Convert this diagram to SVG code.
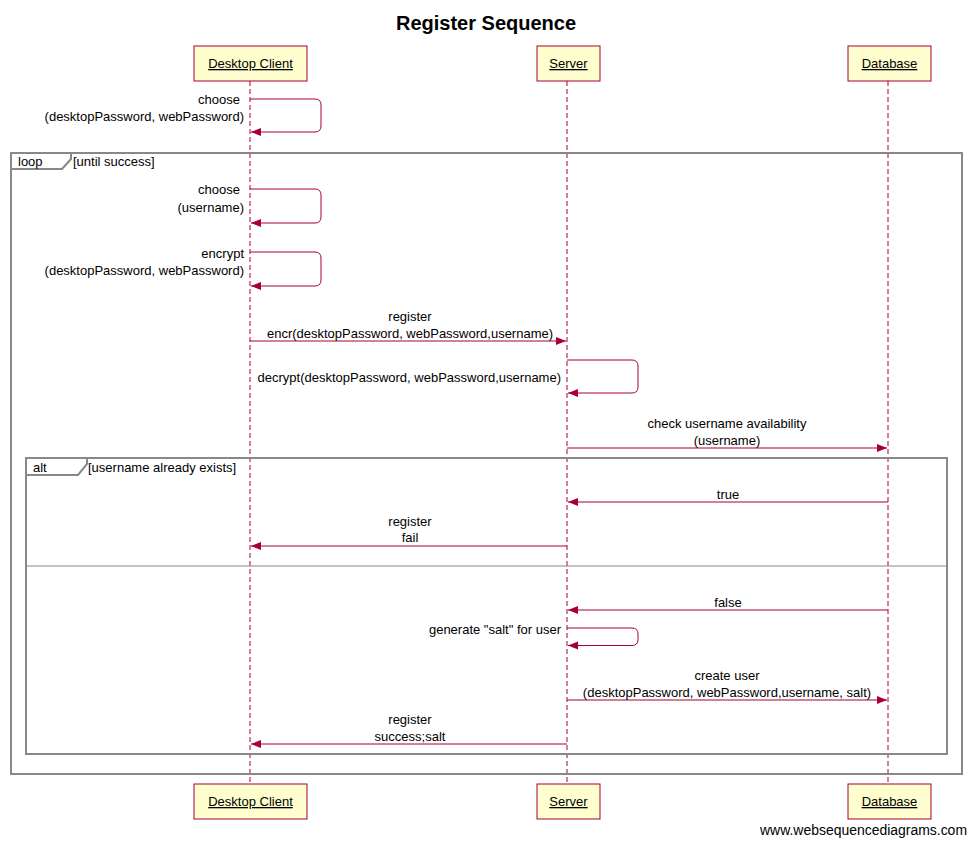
<svg xmlns="http://www.w3.org/2000/svg" width="971" height="842" viewBox="0 0 971 842">
<style>
text{font-family:"Liberation Sans",Arial,sans-serif;font-size:13px;fill:#000}
.title{font-size:20px;font-weight:bold}
.pbox{fill:#fefece;stroke:#a80036;stroke-width:1}
.plabel{text-decoration:underline;text-anchor:middle}
.life{stroke:#a80036;stroke-width:1;stroke-dasharray:5,3;fill:none}
.msg{stroke:#a80036;stroke-width:1;fill:none;marker-end:url(#ah)}
.frame{fill:none;stroke:#888;stroke-width:2}
.tab{fill:#fff;stroke:#888;stroke-width:2}
.sep{stroke:#888;stroke-width:1}
.c{text-anchor:middle}
.r{text-anchor:end}
</style>
<defs>
<marker id="ah" markerUnits="userSpaceOnUse" markerWidth="11" markerHeight="9" refX="10" refY="4" orient="auto">
<path d="M0,0 L10,4 L0,8 z" fill="#a80036"/>
</marker>
</defs>
<rect width="971" height="842" fill="#fff"/>
<text class="title c" x="486" y="30">Register Sequence</text>

<g id="lifelines">
<line class="life" x1="250" y1="81" x2="250" y2="784"/>
<line class="life" x1="567" y1="81" x2="567" y2="784"/>
<line class="life" x1="888" y1="81" x2="888" y2="784"/>
</g>

<g id="frames">
<rect class="frame" x="11" y="153" width="951" height="621"/>
<path class="tab" d="M11,153 H71 V159 L62,169 H11 Z"/>
<text x="18" y="166">loop</text>
<text x="73" y="166">[until success]</text>
<rect class="frame" x="26" y="458" width="921" height="296"/>
<path class="tab" d="M26,458 H87 V464 L78,475 H26 Z"/>
<text x="33" y="472">alt</text>
<text x="88" y="472">[username already exists]</text>
<line class="sep" x1="26" y1="566" x2="947" y2="566"/>
</g>

<g id="desktop-client">
<rect class="pbox" x="194" y="46" width="113" height="35"/>
<text class="plabel" x="250.5" y="68">Desktop Client</text>
<rect class="pbox" x="194" y="784" width="113" height="35"/>
<text class="plabel" x="250.5" y="806">Desktop Client</text>
</g>
<g id="server">
<rect class="pbox" x="537" y="46" width="63" height="35"/>
<text class="plabel" x="568.5" y="68">Server</text>
<rect class="pbox" x="537" y="784" width="63" height="35"/>
<text class="plabel" x="568.5" y="806">Server</text>
</g>
<g id="database">
<rect class="pbox" x="848" y="46" width="83" height="35"/>
<text class="plabel" x="889.5" y="68">Database</text>
<rect class="pbox" x="848" y="784" width="83" height="35"/>
<text class="plabel" x="889.5" y="806">Database</text>
</g>

<g id="connectors">
<path class="msg" d="M250,99 H315 Q321,99 321,105 V126 Q321,132 315,132 H251"/>
<path class="msg" d="M250,189 H315 Q321,189 321,195 V217 Q321,223 315,223 H251"/>
<path class="msg" d="M250,252 H315 Q321,252 321,258 V280 Q321,286 315,286 H251"/>
<line class="msg" x1="250" y1="341" x2="566" y2="341"/>
<path class="msg" d="M567,360 H632 Q638,360 638,366 V387 Q638,393 632,393 H568"/>
<line class="msg" x1="567" y1="448" x2="887" y2="448"/>
<line class="msg" x1="888" y1="502" x2="568" y2="502"/>
<line class="msg" x1="567" y1="546" x2="251" y2="546"/>
<line class="msg" x1="888" y1="610" x2="568" y2="610"/>
<path class="msg" d="M567,628 H632 Q638,628 638,634 V639.5 Q638,645.5 632,645.5 H568"/>
<line class="msg" x1="567" y1="700" x2="887" y2="700"/>
<line class="msg" x1="567" y1="744" x2="251" y2="744"/>
</g>

<g id="labels">
<text class="r" x="240" y="104">choose</text>
<text class="r" x="244" y="121">(desktopPassword, webPassword)</text>
<text class="r" x="240" y="194">choose</text>
<text class="r" x="244" y="212">(username)</text>
<text class="r" x="244" y="258">encrypt</text>
<text class="r" x="244" y="275">(desktopPassword, webPassword)</text>
<text class="c" x="410" y="321">register</text>
<text class="c" x="410" y="338">encr(desktopPassword, webPassword,username)</text>
<text class="r" x="561" y="382">decrypt(desktopPassword, webPassword,username)</text>
<text class="c" x="727" y="428">check username availability</text>
<text class="c" x="727" y="445">(username)</text>
<text class="c" x="728" y="499">true</text>
<text class="c" x="410" y="526">register</text>
<text class="c" x="410" y="542">fail</text>
<text class="c" x="728" y="607">false</text>
<text class="r" x="561" y="634">generate "salt" for user</text>
<text class="c" x="727" y="680">create user</text>
<text class="c" x="727" y="697">(desktopPassword, webPassword,username, salt)</text>
<text class="c" x="410" y="724">register</text>
<text class="c" x="410" y="741">success;salt</text>
</g>

<text x="760" y="835" style="font-size:14px" textLength="207" lengthAdjust="spacingAndGlyphs">www.websequencediagrams.com</text>
</svg>
